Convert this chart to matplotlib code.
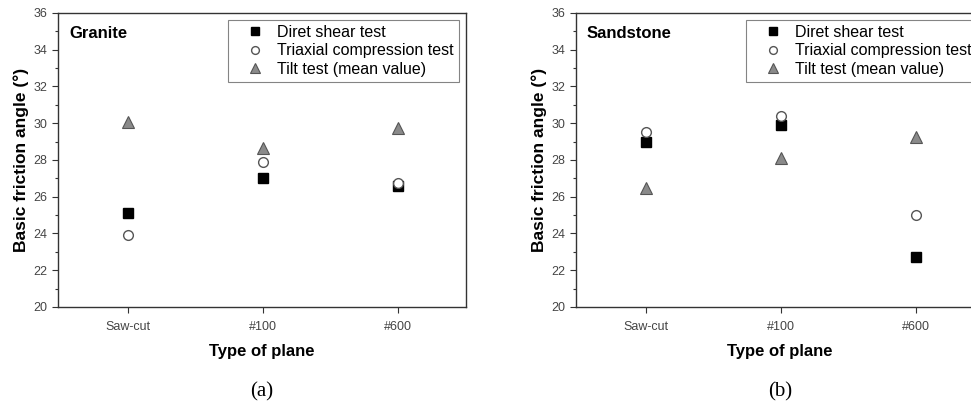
import matplotlib
matplotlib.use('Agg')
import matplotlib.pyplot as plt
from matplotlib.ticker import MultipleLocator

plt.rcParams['font.family'] = ['Liberation Sans', 'DejaVu Sans']

## Data
planes = ['Saw-cut', '#100', '#600']
series = ['Diret shear test', 'Triaxial compression test', 'Tilt test (mean value)']

granite_direct = [25.1, 27.0, 26.6]
granite_triaxial = [23.9, 27.9, 26.75]
granite_tilt = [30.05, 28.65, 29.75]

sandstone_direct = [29.0, 29.9, 22.7]
sandstone_triaxial = [29.5, 30.4, 25.0]
sandstone_tilt = [26.5, 28.1, 29.25]

fig = plt.figure(figsize=(9.71, 4.05), dpi=100)
ax1 = fig.add_axes([0.0597, 0.242, 0.420, 0.726])
ax2 = fig.add_axes([0.593, 0.242, 0.420, 0.726])

def draw_panel(ax, rock, direct, triaxial, tilt, tag):
    x = range(len(planes))
    ax.plot(x, direct, 's', color='black', markersize=6.5, linestyle='none', label=series[0])
    ax.plot(x, triaxial, 'o', markerfacecolor='white', markeredgecolor='#555555',
            markeredgewidth=1.0, markersize=7, linestyle='none', label=series[1])
    ax.plot(x, tilt, '^', markerfacecolor='#8a8a8a', markeredgecolor='#555555',
            markeredgewidth=0.8, markersize=9, linestyle='none', label=series[2])

    ax.set_xlim(-0.52, 2.5)
    ax.set_ylim(20, 36)
    ax.set_xticks(list(x))
    ax.set_xticklabels(planes)
    ax.yaxis.set_major_locator(MultipleLocator(2))
    ax.yaxis.set_minor_locator(MultipleLocator(1))
    ax.tick_params(axis='both', which='major', direction='out', length=4,
                   width=0.8, colors='#333333', labelsize=9, labelcolor='#444444')
    ax.tick_params(axis='x', which='major', pad=6)
    ax.tick_params(axis='y', which='minor', direction='out', length=2.5, width=0.8, colors='#333333')
    ax.tick_params(top=False, right=False)
    for s in ax.spines.values():
        s.set_color('#333333')
        s.set_linewidth(1.0)

    ax.set_ylabel('Basic friction angle (°)', fontsize=12.5, fontweight='bold', labelpad=3)
    ax.set_xlabel('Type of plane', fontsize=12, fontweight='bold', labelpad=8)
    ax.text(0.027, 0.955, rock, transform=ax.transAxes, fontsize=12,
            fontweight='bold', ha='left', va='top')
    leg = ax.legend(loc='upper right', bbox_to_anchor=(0.983, 0.976), fontsize=11.5,
                    frameon=True, fancybox=False, edgecolor='#666666',
                    handletextpad=0.05, borderpad=0.3, labelspacing=0.22,
                    handlelength=2.75, borderaxespad=0, markerscale=0.8)
    leg.get_frame().set_linewidth(0.8)
    ax.text(0.5, -0.289, tag, transform=ax.transAxes, fontsize=15,
            family='Liberation Serif', ha='center', va='center')

draw_panel(ax1, 'Granite', granite_direct, granite_triaxial, granite_tilt, '(a)')
draw_panel(ax2, 'Sandstone', sandstone_direct, sandstone_triaxial, sandstone_tilt, '(b)')

fig.savefig('out.png', dpi=100)
